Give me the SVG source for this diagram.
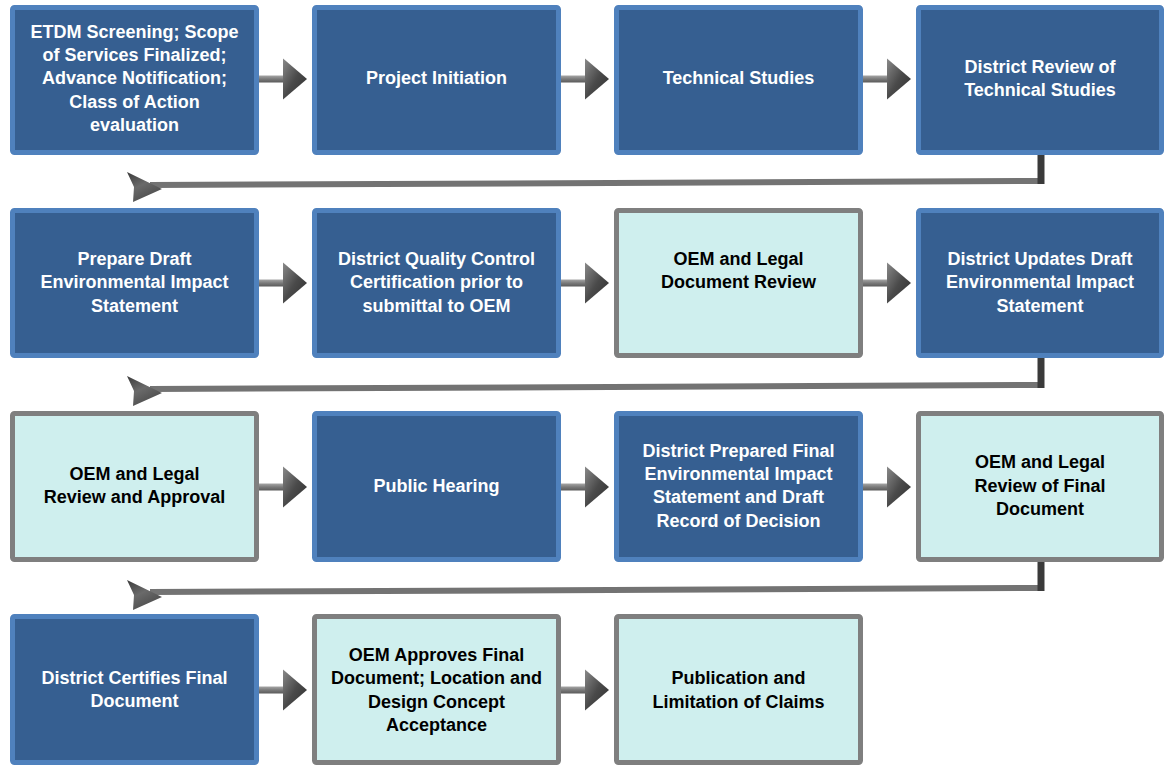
<svg xmlns="http://www.w3.org/2000/svg" width="1164" height="765" viewBox="0 0 1164 765">
<defs>
<style>
.dk{fill:#365f91;stroke:#4f81bd;stroke-width:5}
.lt{fill:#cfefee;stroke:#7f7f7f;stroke-width:5}
text{font-family:"Liberation Sans",Arial,sans-serif;font-weight:bold;font-size:18px;text-anchor:middle}
.w{fill:#ffffff}
.b{fill:#000000}
.shaft{fill:url(#gs)}
.head{fill:url(#gh)}
.lhead{fill:url(#gl)}
.ret{fill:none;stroke:#737373;stroke-width:6}
.retv{fill:none;stroke:#3a3a3a;stroke-width:7}
</style>
<linearGradient id="gs" x1="0" y1="0" x2="0" y2="1">
<stop offset="0" stop-color="#a6a6a6"/><stop offset="0.5" stop-color="#7a7a7a"/><stop offset="1" stop-color="#5a5a5a"/>
</linearGradient>
<linearGradient id="gh" x1="0" y1="0" x2="1" y2="1">
<stop offset="0" stop-color="#8a8a8a"/><stop offset="0.5" stop-color="#4a4a4a"/><stop offset="1" stop-color="#2e2e2e"/>
</linearGradient>
<linearGradient id="gl" x1="0" y1="0" x2="0.6" y2="1">
<stop offset="0" stop-color="#3a3a3a"/><stop offset="0.5" stop-color="#6a6a6a"/><stop offset="1" stop-color="#4a4a4a"/>
</linearGradient>
<g id="rarrow">
<rect class="shaft" x="0" y="-3.5" width="26" height="7"/>
<polygon class="head" points="24,-20.5 48,0 24,20.5"/>
</g>
<g id="larrow">
<polygon class="lhead" points="0,0 35,17 6,30 7,15"/>
</g>
</defs>

<g id="connectors">
<use href="#rarrow" x="259" y="79"/>
<use href="#rarrow" x="561" y="79"/>
<use href="#rarrow" x="863" y="79"/>
<use href="#rarrow" x="259" y="283"/>
<use href="#rarrow" x="561" y="283"/>
<use href="#rarrow" x="863" y="283"/>
<use href="#rarrow" x="259" y="487"/>
<use href="#rarrow" x="561" y="487"/>
<use href="#rarrow" x="863" y="487"/>
<use href="#rarrow" x="259" y="690"/>
<use href="#rarrow" x="561" y="690"/>
<polyline class="ret" points="1041,181 150,185"/>
<polyline class="retv" points="1041,155 1041,184"/>
<use href="#larrow" x="127" y="172"/>
<polyline class="ret" points="1041,385 150,389"/>
<polyline class="retv" points="1041,358 1041,388"/>
<use href="#larrow" x="127" y="376"/>
<polyline class="ret" points="1041,588 150,592"/>
<polyline class="retv" points="1041,562 1041,591"/>
<use href="#larrow" x="127" y="580"/>
</g>

<g id="n1"><rect class="dk" x="12.5" y="7.5" width="244" height="145" rx="2"/>
<text class="w" x="134.5" y="38">ETDM Screening; Scope</text>
<text class="w" x="134.5" y="61">of Services Finalized;</text>
<text class="w" x="134.5" y="84">Advance Notification;</text>
<text class="w" x="134.5" y="108">Class of Action</text>
<text class="w" x="134.5" y="131">evaluation</text></g>
<g id="n2"><rect class="dk" x="314.5" y="7.5" width="244" height="145" rx="2"/>
<text class="w" x="436.5" y="84">Project Initiation</text></g>
<g id="n3"><rect class="dk" x="616.5" y="7.5" width="244" height="145" rx="2"/>
<text class="w" x="738.5" y="84">Technical Studies</text></g>
<g id="n4"><rect class="dk" x="918.5" y="7.5" width="243" height="145" rx="2"/>
<text class="w" x="1040" y="73">District Review of</text>
<text class="w" x="1040" y="96">Technical Studies</text></g>

<g id="n5"><rect class="dk" x="12.5" y="210.5" width="244" height="145" rx="2"/>
<text class="w" x="134.5" y="265">Prepare Draft</text>
<text class="w" x="134.5" y="288">Environmental Impact</text>
<text class="w" x="134.5" y="312">Statement</text></g>
<g id="n6"><rect class="dk" x="314.5" y="210.5" width="244" height="145" rx="2"/>
<text class="w" x="436.5" y="265">District Quality Control</text>
<text class="w" x="436.5" y="288">Certification prior to</text>
<text class="w" x="436.5" y="312">submittal to OEM</text></g>
<g id="n7"><rect class="lt" x="616.5" y="210.5" width="244" height="145" rx="2"/>
<text class="b" x="738.5" y="265">OEM and Legal</text>
<text class="b" x="738.5" y="288">Document Review</text></g>
<g id="n8"><rect class="dk" x="918.5" y="210.5" width="243" height="145" rx="2"/>
<text class="w" x="1040" y="265">District Updates Draft</text>
<text class="w" x="1040" y="288">Environmental Impact</text>
<text class="w" x="1040" y="312">Statement</text></g>

<g id="n9"><rect class="lt" x="12.5" y="413.5" width="244" height="146" rx="2"/>
<text class="b" x="134.5" y="480">OEM and Legal</text>
<text class="b" x="134.5" y="503">Review and Approval</text></g>
<g id="n10"><rect class="dk" x="314.5" y="413.5" width="244" height="146" rx="2"/>
<text class="w" x="436.5" y="492">Public Hearing</text></g>
<g id="n11"><rect class="dk" x="616.5" y="413.5" width="244" height="146" rx="2"/>
<text class="w" x="738.5" y="457">District Prepared Final</text>
<text class="w" x="738.5" y="480">Environmental Impact</text>
<text class="w" x="738.5" y="503">Statement and Draft</text>
<text class="w" x="738.5" y="527">Record of Decision</text></g>
<g id="n12"><rect class="lt" x="918.5" y="413.5" width="243" height="146" rx="2"/>
<text class="b" x="1040" y="468">OEM and Legal</text>
<text class="b" x="1040" y="492">Review of Final</text>
<text class="b" x="1040" y="515">Document</text></g>

<g id="n13"><rect class="dk" x="12.5" y="616.5" width="244" height="146" rx="2"/>
<text class="w" x="134.5" y="684">District Certifies Final</text>
<text class="w" x="134.5" y="707">Document</text></g>
<g id="n14"><rect class="lt" x="314.5" y="616.5" width="244" height="146" rx="2"/>
<text class="b" x="436.5" y="661">OEM Approves Final</text>
<text class="b" x="436.5" y="684">Document; Location and</text>
<text class="b" x="436.5" y="708">Design Concept</text>
<text class="b" x="436.5" y="731">Acceptance</text></g>
<g id="n15"><rect class="lt" x="616.5" y="616.5" width="244" height="146" rx="2"/>
<text class="b" x="738.5" y="684">Publication and</text>
<text class="b" x="738.5" y="708">Limitation of Claims</text></g>
</svg>
